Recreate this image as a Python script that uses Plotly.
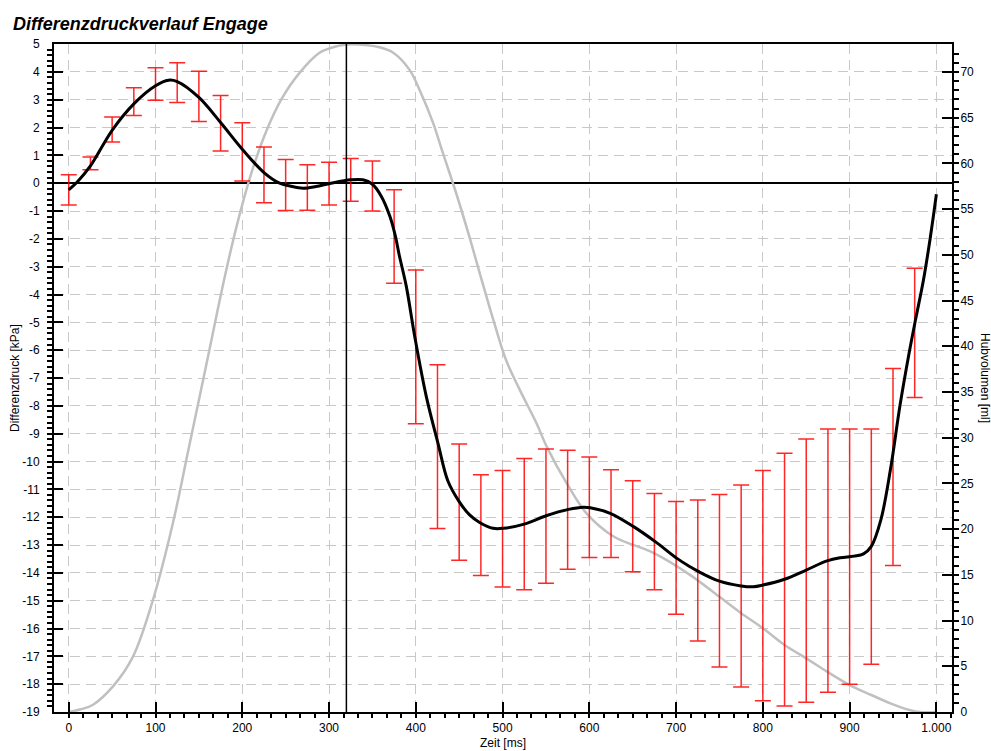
import plotly.graph_objects as go

# Differenzdruck (Mittelwertkurve) in kPa
zeit_druck = [0, 10, 25, 50, 75, 100, 115, 125, 150, 175, 200, 225, 243, 255, 270, 285,
              300, 325, 339, 350, 360, 370, 376, 381, 389, 399, 412, 426, 437, 450, 462,
              474, 489, 501, 526, 551, 576, 593, 601, 624, 651, 676, 701, 716, 725, 750,
              775, 789, 800, 825, 850, 874, 889, 905, 916, 925, 936, 947, 958, 968, 976,
              985, 993, 1000]
druck = [-0.24, 0.05, 0.62, 1.90, 2.85, 3.50, 3.70, 3.65, 3.08, 2.18, 1.22, 0.38, 0.0,
         -0.10, -0.18, -0.12, -0.02, 0.12, 0.12, -0.04, -0.46, -1.18, -1.84, -2.60, -3.70,
         -5.55, -7.65, -9.40, -10.70, -11.44, -11.92, -12.20, -12.40, -12.40, -12.24,
         -11.94, -11.72, -11.64, -11.66, -11.86, -12.34, -12.88, -13.48, -13.78, -13.94,
         -14.30, -14.47, -14.50, -14.44, -14.23, -13.90, -13.57, -13.46, -13.40, -13.32,
         -13.05, -12.10, -10.30, -8.00, -6.20, -4.90, -3.50, -1.95, -0.40]

# Hubvolumen in ml (rechte Achse)
zeit_hub = [0, 14, 28, 51, 74, 97, 120, 138, 163, 175, 188, 200, 212, 228, 245, 266, 289,
            301, 320, 335, 358, 374, 393, 404, 420, 431, 447, 462, 474, 489, 504, 520, 539,
            551, 574, 597, 628, 674, 716, 750, 775, 800, 825, 850, 874, 900, 925, 947, 970,
            981, 1000]
hubvolumen = [0.0, 0.3, 0.8, 2.8, 6.05, 12.25, 20.65, 28.7, 40.0, 45.5, 51.0, 55.5, 59.4,
              63.6, 67.0, 69.9, 72.1, 72.6, 73.0, 73.0, 72.7, 72.1, 70.2, 68.1, 64.4, 61.2,
              56.6, 51.9, 47.9, 43.0, 38.5, 35.2, 31.6, 29.0, 25.0, 21.7, 19.2, 17.4, 15.0,
              12.6, 10.8, 9.16, 7.33, 5.87, 4.41, 2.95, 1.86, 0.95, 0.2, 0.0, 0.0]

# Fehlerbalken alle 25 ms (Mittelwert +/- Standardabweichung)
zeit_balken = list(range(0, 1000, 25))
balken_mittel = [-0.24, 0.71, 1.93, 2.93, 3.565, 3.615, 3.12, 2.155, 1.125, 0.30, -0.065,
                 -0.155, -0.015, 0.12, -0.10, -1.92, -5.88, -9.465, -11.46, -12.29, -12.415,
                 -12.25, -11.96, -11.735, -11.645, -11.875, -12.325, -12.88, -13.465,
                 -13.915, -14.285, -14.47, -14.46, -14.24, -13.92, -13.56, -13.415, -13.055,
                 -10.20, -5.38]
balken_sd = [0.54, 0.23, 0.45, 0.50, 0.585, 0.715, 0.90, 0.995, 1.045, 1.00, 0.915, 0.815,
             0.765, 0.77, 0.90, 1.68, 2.76, 2.945, 2.09, 1.81, 2.095, 2.36, 2.41, 2.135,
             1.805, 1.575, 1.635, 1.73, 2.025, 2.535, 3.095, 3.63, 4.14, 4.54, 4.73, 4.73,
             4.585, 4.225, 3.54, 2.32]

cursor_ms = 320

x_ticks = list(range(0, 1001, 100))
x_labels = ["0", "100", "200", "300", "400", "500", "600", "700", "800", "900", "1.000"]
y_ticks = list(range(-19, 6))
y_labels = [str(v) for v in y_ticks]
hub_ticks = list(range(0, 71, 5))
hub_labels = [str(v) for v in hub_ticks]

FONT = "Liberation Sans, Arial, sans-serif"
GRID = "#c8c8c8"

fig = go.Figure()

# Hubvolumen (unten liegend)
fig.add_trace(go.Scatter(
    x=zeit_hub, y=hubvolumen, mode="lines", yaxis="y",
    line=dict(color="#c0c0c0", width=2.5, shape="spline", smoothing=1.0),
    name="Hubvolumen", showlegend=False
))

# Fehlerbalken
fig.add_trace(go.Scatter(
    x=zeit_balken, y=balken_mittel, mode="markers", yaxis="y2",
    marker=dict(size=1, color="rgba(0,0,0,0)"),
    error_y=dict(type="data", array=balken_sd, visible=True,
                 color="rgba(255,0,0,0.85)", thickness=1.5, width=8),
    showlegend=False
))

# Differenzdruck
fig.add_trace(go.Scatter(
    x=zeit_druck, y=druck, mode="lines", yaxis="y2",
    line=dict(color="black", width=3, shape="spline", smoothing=1.0),
    name="Differenzdruck", showlegend=False
))

fig.add_shape(type="line", xref="x", yref="paper", x0=cursor_ms, x1=cursor_ms, y0=0, y1=1,
              line=dict(color="black", width=1.5))

fig.update_layout(
    width=991, height=751,
    margin=dict(l=54, r=39, t=44, b=39, autoexpand=False),
    paper_bgcolor="white", plot_bgcolor="white",
    font=dict(family=FONT, size=12, color="black"),
    title=dict(text="<b><i>Differenzdruckverlauf Engage</i></b>",
               font=dict(family=FONT, size=18, color="black"),
               x=13 / 991, xanchor="left", xref="container",
               y=1 - 24 / 751, yanchor="middle", yref="container"),
    xaxis=dict(
        range=[-17, 1018], tickvals=x_ticks, ticktext=x_labels,
        ticks="inside", ticklen=10, tickwidth=1.5, tickcolor="black",
        ticklabelstandoff=4,
        minor=dict(dtick=100 / 6, tick0=0, ticks="outside", ticklen=4, tickcolor="black",
                   showgrid=False),
        showgrid=True, gridcolor=GRID, griddash="10px,6px", gridwidth=1,
        zeroline=False, showline=True, linecolor="black", linewidth=2, mirror=True,
        tickfont=dict(size=12),
    ),
    yaxis=dict(
        range=[0, 73.06], side="right", tickvals=hub_ticks, ticktext=hub_labels,
        ticks="inside", ticklen=10, tickwidth=1.5, tickcolor="black",
        ticklabelstandoff=4,
        minor=dict(dtick=1, tick0=0, ticks="outside", ticklen=5, tickcolor="black",
                   showgrid=False),
        showgrid=False, zeroline=False, showline=True, linecolor="black", linewidth=2,
        tickfont=dict(size=12),
    ),
    yaxis2=dict(
        range=[-19, 5], side="left", overlaying="y", tickvals=y_ticks, ticktext=y_labels,
        ticks="inside", ticklen=9, tickwidth=1.5, tickcolor="black",
        ticklabelstandoff=10,
        minor=dict(dtick=0.2, tick0=0, ticks="outside", ticklen=5, tickcolor="black",
                   showgrid=False),
        showgrid=True, gridcolor=GRID, griddash="10px,6px", gridwidth=1,
        zeroline=True, zerolinecolor="black", zerolinewidth=1.5,
        showline=True, linecolor="black", linewidth=2,
        tickfont=dict(size=12),
    ),
    annotations=[
        dict(text="Zeit [ms]", xref="paper", yref="paper", x=0.5, y=-0.046,
             xanchor="center", yanchor="middle", showarrow=False, font=dict(size=12)),
        dict(text="Differenzdruck [kPa]", xref="paper", yref="paper", x=-39 / 898, y=0.5,
             xanchor="center", yanchor="middle", textangle=-90, showarrow=False,
             font=dict(size=12)),
        dict(text="Hubvolumen [ml]", xref="paper", yref="paper", x=1 + 33 / 898, y=0.5,
             xanchor="center", yanchor="middle", textangle=90, showarrow=False,
             font=dict(size=12)),
    ],
)

# default body margin of the page would shift the figure by 8px
fig.write_html("out.html", config={"displayModeBar": False},
               post_script="document.body.style.margin = '0px';")
